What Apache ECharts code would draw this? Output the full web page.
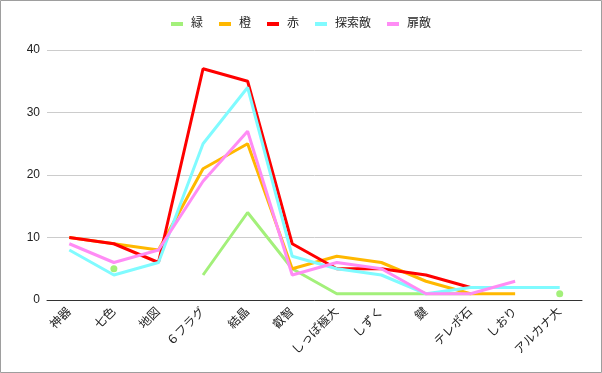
<!DOCTYPE html>
<html>
<head>
<meta charset="utf-8">
<script src="https://cdn.jsdelivr.net/npm/echarts@6/dist/echarts.min.js"></script>
<style>
html,body{margin:0;padding:0;background:#fff;}
#c{width:602px;height:373px;}
</style>
</head>
<body>
<div id="c"></div>
<script>
var categories = ['神器','七色','地図','６フラグ','結晶','叡智','しっぽ極大','しずく','鍵','テレポ石','しおり','アルカナ大'];
var seriesNames = ['緑','橙','赤','探索敵','扉敵'];
var green  = [null, 5, null, 4, 14, 5, 1, 1, 1, 1, null, 1];
var orange = [10, 9, 8, 21, 25, 5, 7, 6, 3, 1, 1, null];
var red    = [10, 9, 6, 37, 35, 9, 5, 5, 4, 2, null, null];
var cyan   = [8, 4, 6, 25, 34, 7, 5, 4, 1, 2, 2, 2];
var pink   = [9, 6, 8, 19, 27, 4, 6, 5, 1, 1, 3, null];
var yTicks = [0, 10, 20, 30, 40];

var colors = ['#a3f07a','#ffb800','#ff0000','#80fbff','#ff8cf5'];
var allData = [green, orange, red, cyan, pink];

function isolated(arr, i){
  var prev = i > 0 ? arr[i-1] : null;
  var next = i < arr.length-1 ? arr[i+1] : null;
  return arr[i] != null && prev == null && next == null;
}

var series = allData.map(function(arr, k){
  return {
    name: seriesNames[k],
    type: 'line',
    data: arr.map(function(v){ return v; }),
    connectNulls: false,
    showSymbol: true,
    symbol: 'circle',
    symbolSize: function(val, params){ return isolated(arr, params.dataIndex) ? 7 : 0; },
    lineStyle: {width: 3, color: colors[k]},
    itemStyle: {color: colors[k], borderWidth: 0},
    emphasis: {disabled: true},
    animation: false
  };
});

var chart = echarts.init(document.getElementById('c'), null, {renderer:'canvas'});
chart.setOption({
  animation: false,
  color: colors,
  textStyle: {fontFamily: 'Arial, "Liberation Sans", "Noto Sans CJK JP", sans-serif'},
  graphic: [{
    type: 'rect',
    shape: {x: 0.5, y: 0.5, width: 601, height: 372},
    style: {fill: 'none', stroke: '#9e9e9e', lineWidth: 1},
    silent: true
  }],
  legend: {
    top: 18,
    left: 'center',
    data: seriesNames,
    icon: 'rect',
    itemWidth: 12,
    itemHeight: 4,
    itemGap: 16,
    textStyle: {fontSize: 12, color: '#222', padding: [0, 0, 0, 3]},
    padding: 0
  },
  grid: {left: 47, right: 20, top: 50, bottom: 73, containLabel: false},
  xAxis: {
    type: 'category',
    data: categories,
    boundaryGap: true,
    axisLine: {show: true, lineStyle: {color: '#333', width: 1}},
    axisTick: {show: false},
    axisLabel: {rotate: 45, fontSize: 12, color: '#222', margin: 10, interval: 0}
  },
  yAxis: {
    type: 'value',
    min: yTicks[0],
    max: yTicks[yTicks.length-1],
    interval: 10,
    axisLine: {show: false},
    axisTick: {show: false},
    splitLine: {lineStyle: {color: '#cccccc', width: 1}},
    axisLabel: {fontSize: 12, color: '#222', margin: 7}
  },
  series: series
});
</script>
</body>
</html>
